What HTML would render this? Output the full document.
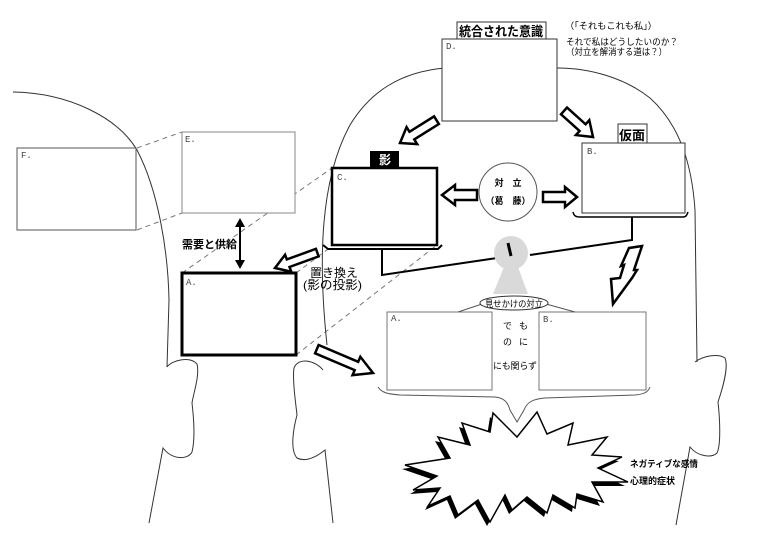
<!DOCTYPE html>
<html><head><meta charset="utf-8"><style>
html,body{margin:0;padding:0;background:#fff;}
svg{display:block;}
text{font-family:"Liberation Sans","Noto Sans CJK JP",sans-serif;}
.lbl{font-family:"Liberation Mono","Noto Sans CJK JP",monospace;font-size:9px;fill:#444;}
.ar{fill:#fff;stroke:#000;stroke-width:2.5;stroke-linejoin:miter;}
</style></head><body>
<svg width="760" height="537" viewBox="0 0 760 537" xmlns="http://www.w3.org/2000/svg">
<!-- dashed projection lines -->
<g stroke="#777" stroke-width="1" stroke-dasharray="5,4" fill="none">
<line x1="137" y1="148" x2="182" y2="132"/>
<line x1="137" y1="230" x2="182" y2="213"/>
<line x1="182" y1="273" x2="332" y2="168"/>
<line x1="296" y1="273" x2="437" y2="168"/>
<line x1="296" y1="355" x2="437" y2="245"/>
</g>
<!-- head outlines -->
<g stroke="#333" stroke-width="1" fill="none">
<path d="M13,92 C70,93 118,118 137,150 C158,190 168,250 169,300 L167,367"/>
<path d="M167,367 C172,360 190,356 197,364 C200,375 193,395 192,403 C194,420 195,440 192,452 C188,460 172,460 163,448 L149,523"/>
<path d="M327,345 C318,260 320,180 350,125 C370,92 400,72 445,68 L557,68 C590,68 625,78 650,98 C680,125 692,165 695,210 L697,362"/>
<path d="M695,362 C703,356 718,353 725,358 C729,368 722,390 718,402 C720,420 721,445 717,453 C712,458 698,457 690,447 L676,525"/>
<path d="M323,370 C315,360 298,357 294,368 C292,380 296,405 297,415 C293,430 290,450 297,458 C305,462 315,458 325,450 L333,523"/>
</g>
<!-- boxes -->
<rect x="17" y="148" width="119" height="82" fill="#fff" stroke="#555" stroke-width="1"/>
<rect x="182" y="132" width="113" height="81" fill="#fff" stroke="#888" stroke-width="1"/>
<rect x="442" y="39" width="115" height="82" fill="#fff" stroke="#333" stroke-width="1"/>
<rect x="457" y="22" width="89" height="17" fill="#fff" stroke="#333" stroke-width="1"/>
<rect x="582" y="143" width="103" height="70" fill="#fff" stroke="#333" stroke-width="1"/>
<rect x="618" y="124" width="29" height="19" fill="#fff" stroke="#333" stroke-width="1"/>
<rect x="332" y="168" width="105" height="77" fill="#fff" stroke="#000" stroke-width="2.5"/>
<rect x="370" y="151" width="29" height="17" fill="#000"/>
<rect x="182" y="273" width="114" height="82" fill="#fff" stroke="#000" stroke-width="3"/>
<rect x="387" y="312" width="105" height="78" fill="#fff" stroke="#777" stroke-width="1"/>
<rect x="539" y="312" width="107" height="78" fill="#fff" stroke="#777" stroke-width="1"/>
<!-- brackets and connectors -->
<g stroke="#000" fill="none">
<path d="M323,245 L328,249 L438,249 L442,245" stroke-width="2"/>
<path d="M573,212 C574,216 576,217 580,217 L683,217 C686,217 687,215 688,212" stroke-width="1.5"/>
<polyline points="382,249 382,275 497,258" stroke-width="2"/>
<polyline points="632,217 632,240 530,255" stroke-width="2"/>
</g>
<!-- conflict circle -->
<circle cx="508" cy="192" r="29" fill="#fff" stroke="#555" stroke-width="1"/>
<text x="508" y="186" font-size="9" font-weight="bold" text-anchor="middle">対　立</text>
<text x="508" y="204" font-size="9" font-weight="bold" text-anchor="middle">（葛　藤）</text>
<!-- person -->
<circle cx="511" cy="253" r="17" fill="#d9d9d9"/>
<polygon points="504,267 518,267 528,294 493,294" fill="#d9d9d9"/>
<line x1="508" y1="243" x2="511" y2="256" stroke="#000" stroke-width="3"/>
<!-- lines from ellipse -->
<g stroke="#555" stroke-width="1" fill="none">
<line x1="482" y1="304" x2="458" y2="312"/>
<line x1="546" y1="304" x2="575" y2="312"/>
<path d="M378,387 C382,393 388,394 400,395 L495,397 C505,398 508,403 510,410 L517,422 L524,410 C527,402 533,399 545,398 L635,395 C645,394 648,392 650,387"/>
</g>
<ellipse cx="514" cy="303" rx="34" ry="7" fill="#fff" stroke="#333" stroke-width="1"/>
<text x="514" y="307" font-size="9" text-anchor="middle" textLength="58" lengthAdjust="spacingAndGlyphs">見せかけの対立</text>
<!-- hollow arrows -->
<g class="ar">
<g transform="translate(400,143) rotate(148)"><polygon points="0,0 -14,-10 -14,-4.5 -43,-4.5 -43,4.5 -14,4.5 -14,10"/></g>
<g transform="translate(593,137) rotate(42)"><polygon points="0,0 -14,-10 -14,-4.5 -39,-4.5 -39,4.5 -14,4.5 -14,10"/></g>
<g transform="translate(442,195) rotate(180)"><polygon points="0,0 -13,-10 -13,-5 -35,-5 -35,5 -13,5 -13,10"/></g>
<g transform="translate(577,197)"><polygon points="0,0 -12,-10 -12,-5 -34,-5 -34,5 -12,5 -12,10"/></g>
<g transform="translate(275,268) rotate(160)"><polygon points="0,0 -14,-9 -14,-4 -45,-4 -45,4 -14,4 -14,9"/></g>
<g transform="translate(373,373) rotate(23)"><polygon points="0,0 -18,-10 -18,-4.5 -61,-4.5 -61,4.5 -18,4.5 -18,10"/></g>
<polygon points="629,248 642,246 634,270 637,270 632,278 613,304 611,279 620,278 624,265 621,266"/>
</g>
<!-- double arrow -->
<line x1="240" y1="224" x2="240" y2="263" stroke="#000" stroke-width="2"/>
<polygon points="240,218 235,227 245,227" fill="#000"/>
<polygon points="240,269 235,260 245,260" fill="#000"/>
<!-- burst -->
<polygon transform="translate(-3,4)" fill="#000" points="405,465 450,458 438,437 470,445 462,423 490,432 493,413 517,437 537,412 547,434 573,423 568,445 607,437 592,455 622,457 598,468 628,482 592,482 603,502 577,494 575,508 553,495 547,513 527,497 512,510 505,495 490,522 478,500 458,515 450,496 428,506 440,488 413,490 437,476"/>
<polygon fill="#fff" stroke="#000" stroke-width="1.5" points="405,465 450,458 438,437 470,445 462,423 490,432 493,413 517,437 537,412 547,434 573,423 568,445 607,437 592,455 622,457 598,468 628,482 592,482 603,502 577,494 575,508 553,495 547,513 527,497 512,510 505,495 490,522 478,500 458,515 450,496 428,506 440,488 413,490 437,476"/>
<!-- labels -->
<text x="501" y="36" font-size="13" font-weight="bold" text-anchor="middle" textLength="84" lengthAdjust="spacingAndGlyphs">統合された意識</text>
<text x="632" y="140" font-size="13" font-weight="bold" text-anchor="middle">仮面</text>
<text x="385" y="164" font-size="12" font-weight="bold" fill="#fff" text-anchor="middle">影</text>
<text class="lbl" x="446" y="49">D.</text>
<text class="lbl" x="337" y="180">C.</text>
<text class="lbl" x="587" y="154">B.</text>
<text class="lbl" x="21" y="158">F.</text>
<text class="lbl" x="185" y="142">E.</text>
<text class="lbl" x="186" y="285">A.</text>
<text class="lbl" x="391" y="321">A.</text>
<text class="lbl" x="543" y="322">B.</text>
<text x="565" y="29" font-size="9" textLength="92" lengthAdjust="spacingAndGlyphs">（「それもこれも私」）</text>
<text x="566" y="45" font-size="9" textLength="112" lengthAdjust="spacingAndGlyphs">それで私はどうしたいのか？</text>
<text x="566" y="55" font-size="9" textLength="101" lengthAdjust="spacingAndGlyphs">（対立を解消する道は？）</text>
<text x="182" y="248" font-size="11" font-weight="bold" textLength="55" lengthAdjust="spacingAndGlyphs">需要と供給</text>
<text x="310" y="277" font-size="12" textLength="48" lengthAdjust="spacingAndGlyphs">置き換え</text>
<text x="303" y="289" font-size="12" textLength="59" lengthAdjust="spacingAndGlyphs">(影の投影)</text>
<text x="503" y="329" font-size="9">で</text>
<text x="519" y="329" font-size="9">も</text>
<text x="503" y="345" font-size="9">の</text>
<text x="519" y="345" font-size="9">に</text>
<text x="493" y="369" font-size="9" textLength="44" lengthAdjust="spacingAndGlyphs">にも関らず</text>
<text x="630" y="467" font-size="9" font-weight="bold" textLength="68" lengthAdjust="spacingAndGlyphs">ネガティブな感情</text>
<text x="630" y="484" font-size="9" font-weight="bold" textLength="45" lengthAdjust="spacingAndGlyphs">心理的症状</text>
</svg>
</body></html>
